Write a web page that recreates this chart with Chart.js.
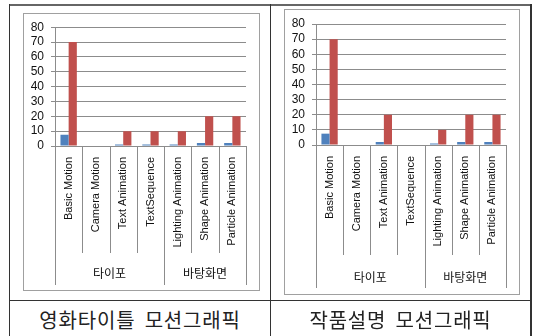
<!DOCTYPE html>
<html>
<head>
<meta charset="utf-8">
<script src="https://cdn.jsdelivr.net/npm/chart.js@4"></script>
<style>
  body { margin: 0; width: 538px; height: 336px; background: #fff; position: relative; overflow: hidden; }
  .ln { position: absolute; background: #333; }
  .frame { position: absolute; border: 1px solid #a0a0a0; box-sizing: border-box; pointer-events: none; }
  canvas { position: absolute; }
  .cap { position: absolute; top: 306px; height: 28px; line-height: 28px; text-align: center;
         font-family: 'Noto Sans CJK KR', sans-serif; font-size: 20px; color: #222;
         letter-spacing: 0.8px; word-spacing: 4px; }
</style>
</head>
<body>
<!-- table lines -->
<div class="ln" style="left:9px;top:4px;width:522px;height:2px;background:#666"></div>
<div class="ln" style="left:9px;top:4px;width:1px;height:332px"></div>
<div class="ln" style="left:270px;top:4px;width:1px;height:332px"></div>
<div class="ln" style="left:530px;top:4px;width:2px;height:332px"></div>
<div class="ln" style="left:9px;top:300px;width:522px;height:1px"></div>

<canvas id="c1" width="237" height="278" style="left:23px;top:13px"></canvas>
<div class="frame" style="left:23px;top:13px;width:237px;height:278px"></div>
<canvas id="c2" width="236" height="286" style="left:284px;top:9px"></canvas>
<div class="frame" style="left:284px;top:9px;width:236px;height:286px"></div>

<div class="cap" style="left:10px;width:260px">영화타이틀 모션그래픽</div>
<div class="cap" style="left:271px;width:259px">작품설명 모션그래픽</div>

<script>
const categories = ['Basic Motion', 'Camera Motion', 'Text Animation', 'TextSequence',
  'Lighting Animation', 'Shape Animation', 'Particle Animation'];
const groupNames = ['타이포', '바탕화면'];
const groupSizes = [4, 3];
const yTicks = [0, 10, 20, 30, 40, 50, 60, 70, 80];

// 영화타이틀
const titleBlue = [7.5, 0, 1, 1, 1, 2, 2];
const titleRed = [70, 0, 10, 10, 10, 20, 20];
// 작품설명
const descBlue = [7.5, 0, 2, 0, 1, 2, 2];
const descRed = [70, 0, 20, 0, 10, 20, 20];

const lineColor = '#8c8c8c';

// draws the category separators and the second label row (groups)
const groupAxis = {
  id: 'groupAxis',
  afterDraw(chart, args, opts) {
    const x = chart.scales.x, ctx = chart.ctx;
    const base = chart.chartArea.bottom;
    const bounds = [0];
    groupSizes.forEach(n => bounds.push(bounds[bounds.length - 1] + n));
    ctx.save();
    ctx.strokeStyle = lineColor;
    ctx.lineWidth = 1;
    for (let i = 0; i <= categories.length; i++) {
      const px = Math.round(x.getPixelForValue(i - 0.5)) + 0.5;
      const len = bounds.includes(i) ? opts.groupLine : opts.catLine;
      ctx.beginPath();
      ctx.moveTo(px, base);
      ctx.lineTo(px, base + len);
      ctx.stroke();
    }
    ctx.fillStyle = '#111';
    ctx.font = '12px "Noto Sans CJK KR"';
    ctx.textAlign = 'center';
    ctx.textBaseline = 'middle';
    groupNames.forEach((g, k) => {
      const a = x.getPixelForValue(bounds[k] - 0.5);
      const b = x.getPixelForValue(bounds[k + 1] - 0.5);
      ctx.fillText(g, (a + b) / 2, base + opts.labelY);
    });
    ctx.restore();
  }
};

function makeChart(id, blue, red, pad, xHeight, grp) {
  return new Chart(document.getElementById(id), {
    type: 'bar',
    data: {
      labels: categories,
      datasets: [
        { data: blue, backgroundColor: '#4F81BD', borderWidth: 0 },
        { data: red, backgroundColor: '#C0504D', borderWidth: 0 }
      ]
    },
    options: {
      responsive: false,
      animation: false,
      categoryPercentage: 0.6,
      barPercentage: 1,
      layout: { padding: { left: 0, top: pad.top, right: pad.right, bottom: 0 } },
      plugins: {
        legend: { display: false },
        tooltip: { enabled: false },
        groupAxis: grp
      },
      scales: {
        x: {
          grid: { display: false, drawTicks: false },
          border: { display: true, color: lineColor },
          afterFit: s => { s.height = xHeight; },
          ticks: {
            minRotation: 90, maxRotation: 90, autoSkip: false, padding: 11,
            color: '#111', font: { family: 'Liberation Sans', size: 11 }
          }
        },
        y: {
          min: 0, max: 80,
          afterBuildTicks: s => { s.ticks = yTicks.map(v => ({ value: v })); },
          afterFit: s => { s.width = 32; },
          grid: { color: lineColor, tickLength: 4 },
          border: { color: lineColor },
          ticks: { autoSkip: false, padding: 7, color: '#111', font: { family: 'Liberation Sans', size: 12 } }
        }
      }
    },
    plugins: [groupAxis]
  });
}

makeChart('c1', titleBlue, titleRed, { top: 14, right: 14 }, 145,
  { catLine: 107, groupLine: 139, labelY: 127 });
makeChart('c2', descBlue, descRed, { top: 15, right: 14 }, 150,
  { catLine: 110, groupLine: 143, labelY: 132 });
</script>
</body>
</html>
